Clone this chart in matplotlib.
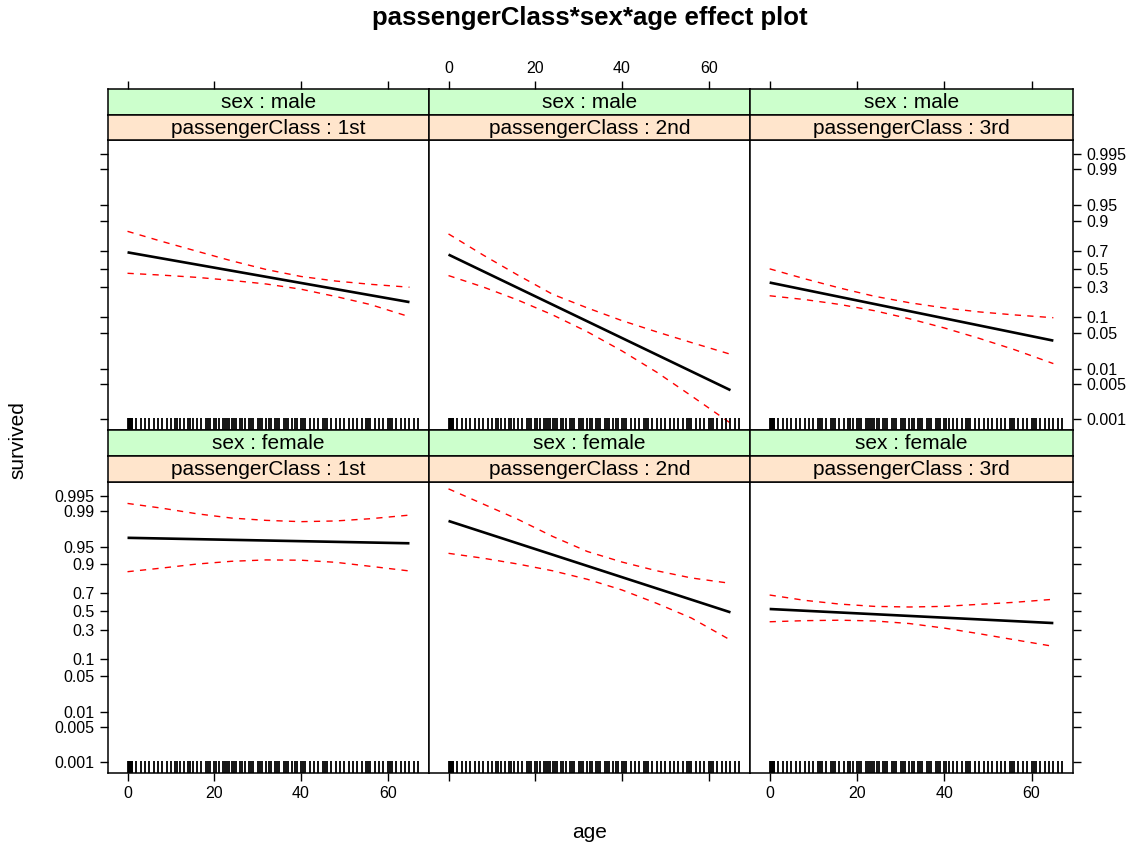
import matplotlib.pyplot as plt
from matplotlib.ticker import NullLocator

plt.rcParams['font.family'] = ['Liberation Sans', 'DejaVu Sans']

classes = ["1st", "2nd", "3rd"]
sexes = ["male", "female"]

fit_age = [0, 65]
ci_age = [0, 8, 16, 24, 32, 40, 48, 56, 65]

# fitted survival probability (straight line on the logit scale)
male_1st_fit = [0.683, 0.179]
male_2nd_fit = [0.660, 0.00377]
male_3rd_fit = [0.349, 0.0357]
female_1st_fit = [0.967, 0.958]
female_2nd_fit = [0.9845, 0.490]
female_3rd_fit = [0.528, 0.370]

# confidence bands, upper and lower
male_1st_hi = [0.850, 0.780, 0.694, 0.593, 0.494, 0.415, 0.365, 0.331, 0.302]
male_1st_lo = [0.451, 0.430, 0.405, 0.372, 0.334, 0.283, 0.220, 0.163, 0.100]
male_2nd_hi = [0.834, 0.655, 0.430, 0.238, 0.143, 0.0850, 0.0525, 0.0328, 0.0194]
male_2nd_lo = [0.425, 0.304, 0.193, 0.108, 0.0527, 0.0225, 0.00858, 0.00290, 0.00083]
male_3rd_hi = [0.502, 0.390, 0.295, 0.222, 0.175, 0.143, 0.122, 0.108, 0.0961]
male_3rd_lo = [0.226, 0.197, 0.164, 0.128, 0.0921, 0.0623, 0.0395, 0.0240, 0.0127]
female_1st_hi = [0.9930, 0.9913, 0.9888, 0.9864, 0.9849, 0.9840, 0.9845, 0.9860, 0.9881]
female_1st_lo = [0.861, 0.880, 0.898, 0.909, 0.914, 0.913, 0.905, 0.888, 0.865]
female_2nd_hi = [0.9964, 0.9928, 0.9856, 0.9690, 0.9400, 0.9060, 0.8660, 0.8230, 0.7841]
female_2nd_lo = [0.935, 0.920, 0.898, 0.866, 0.814, 0.728, 0.592, 0.425, 0.212]
female_3rd_hi = [0.680, 0.625, 0.584, 0.558, 0.551, 0.558, 0.581, 0.603, 0.636]
female_3rd_lo = [0.384, 0.396, 0.401, 0.393, 0.365, 0.318, 0.265, 0.215, 0.168]

# passenger ages for the rug
rug_ages = [0.17, 0.33, 0.42, 0.67, 0.75, 0.83, 0.92, 1, 2, 3, 4, 5, 6, 7, 8, 9,
            10, 11, 11.5, 12, 13, 14, 14.5, 15, 16, 17, 18, 18.5, 19, 20, 20.5,
            21, 22, 22.5, 23, 23.5, 24, 24.5, 25, 26, 26.5, 27, 28, 28.5, 29, 30,
            30.5, 31, 32, 32.5, 33, 34, 34.5, 35, 36, 36.5, 37, 38, 38.5, 39, 40,
            40.5, 41, 42, 43, 44, 45, 45.5, 46, 47, 48, 49, 50, 51, 52, 53, 54,
            55, 55.5, 56, 57, 58, 59, 60, 60.5, 61, 62, 63, 64, 65, 66, 67]

y_ticks = [0.001, 0.005, 0.01, 0.05, 0.1, 0.3, 0.5, 0.7, 0.9, 0.95, 0.99, 0.995]
y_labels = ["0.001", "0.005", "0.01", "0.05", "0.1", "0.3", "0.5", "0.7",
            "0.9", "0.95", "0.99", "0.995"]
x_ticks = [0, 20, 40, 60]

panels = {
    ("male", "1st"): (male_1st_fit, male_1st_lo, male_1st_hi),
    ("male", "2nd"): (male_2nd_fit, male_2nd_lo, male_2nd_hi),
    ("male", "3rd"): (male_3rd_fit, male_3rd_lo, male_3rd_hi),
    ("female", "1st"): (female_1st_fit, female_1st_lo, female_1st_hi),
    ("female", "2nd"): (female_2nd_fit, female_2nd_lo, female_2nd_hi),
    ("female", "3rd"): (female_3rd_fit, female_3rd_lo, female_3rd_hi),
}

W, H = 1142, 848
fig = plt.figure(figsize=(W / 100, H / 100), dpi=100)


def box(x0, y0, x1, y1):
    return [x0 / W, 1 - y1 / H, (x1 - x0) / W, (y1 - y0) / H]


cols = [(108, 429), (429, 750), (750, 1073)]
# (green strip top, orange strip top, panel top, panel bottom)
rows = [(89, 114.5, 140, 430), (430, 456, 482, 773)]
xlim = (-4.5, 69.5)
ylim = (0.000605, 0.99737)
edge = "black"
tick_kw = dict(direction="out", length=6, width=1, labelsize=11.5, colors="black")

for r, sex in enumerate(sexes):
    g0, o0, p0, p1 = rows[r]
    for c, cls in enumerate(classes):
        x0, x1 = cols[c]
        fit, lo, hi = panels[(sex, cls)]

        ax = fig.add_axes(box(x0, p0, x1, p1))
        ax.set_yscale("logit")
        ax.set_xlim(*xlim)
        ax.set_ylim(*ylim)
        ax.plot(fit_age, fit, color="black", lw=1.9, solid_capstyle="butt")
        ax.plot(ci_age, lo, color="red", lw=1, dashes=(4.5, 4.5))
        ax.plot(ci_age, hi, color="red", lw=1, dashes=(4.5, 4.5))
        ax.vlines(rug_ages, 0, 0.04, transform=ax.get_xaxis_transform(),
                  color="black", lw=1.3)
        for s in ax.spines.values():
            s.set_color(edge)
            s.set_linewidth(1.1)

        ax.set_yticks(y_ticks, labels=y_labels)
        ax.yaxis.set_minor_locator(NullLocator())
        ax.xaxis.set_minor_locator(NullLocator())
        ax.set_xticks(x_ticks)
        ax.tick_params(**tick_kw)

        # y axis alternates: labels left on the bottom row, right on the top row
        ax.tick_params(axis="y", left=(c == 0), right=(c == 2),
                       labelleft=(c == 0 and r == 1),
                       labelright=(c == 2 and r == 0))
        # x axis: bottom row ticks at the bottom, labels on outer columns
        ax.tick_params(axis="x", top=False, labeltop=False,
                       bottom=(r == 1), labelbottom=(r == 1 and c != 1))

        # strips
        gs = fig.add_axes(box(x0, g0, x1, o0))
        gs.set_facecolor("#ccffcc")
        gs.set_xlim(*xlim)
        gs.set_yticks([])
        if r == 0:
            gs.set_xticks(x_ticks)
            gs.tick_params(**tick_kw)
            gs.tick_params(axis="x", bottom=False, labelbottom=False,
                           top=True, labeltop=(c == 1))
        else:
            gs.set_xticks([])
        gs.text(0.5, 0.47, f"sex : {sex}", transform=gs.transAxes,
                ha="center", va="center", fontsize=15)

        os_ = fig.add_axes(box(x0, o0, x1, p0))
        os_.set_facecolor("#ffe5cc")
        os_.set_xticks([])
        os_.set_yticks([])
        os_.text(0.5, 0.47, f"passengerClass : {cls}", transform=os_.transAxes,
                 ha="center", va="center", fontsize=15)
        for a in (gs, os_):
            for s in a.spines.values():
                s.set_color(edge)
                s.set_linewidth(1.1)

fig.text(590 / W, 1 - 18 / H, "passengerClass*sex*age effect plot",
         ha="center", va="center", fontsize=18.5, fontweight="bold")
fig.text(590 / W, 1 - 833 / H, "age", ha="center", va="center", fontsize=15)
fig.text(18 / W, 1 - 440 / H, "survived", ha="center", va="center",
         fontsize=15, rotation=90)

fig.savefig("out.png", dpi=100)
